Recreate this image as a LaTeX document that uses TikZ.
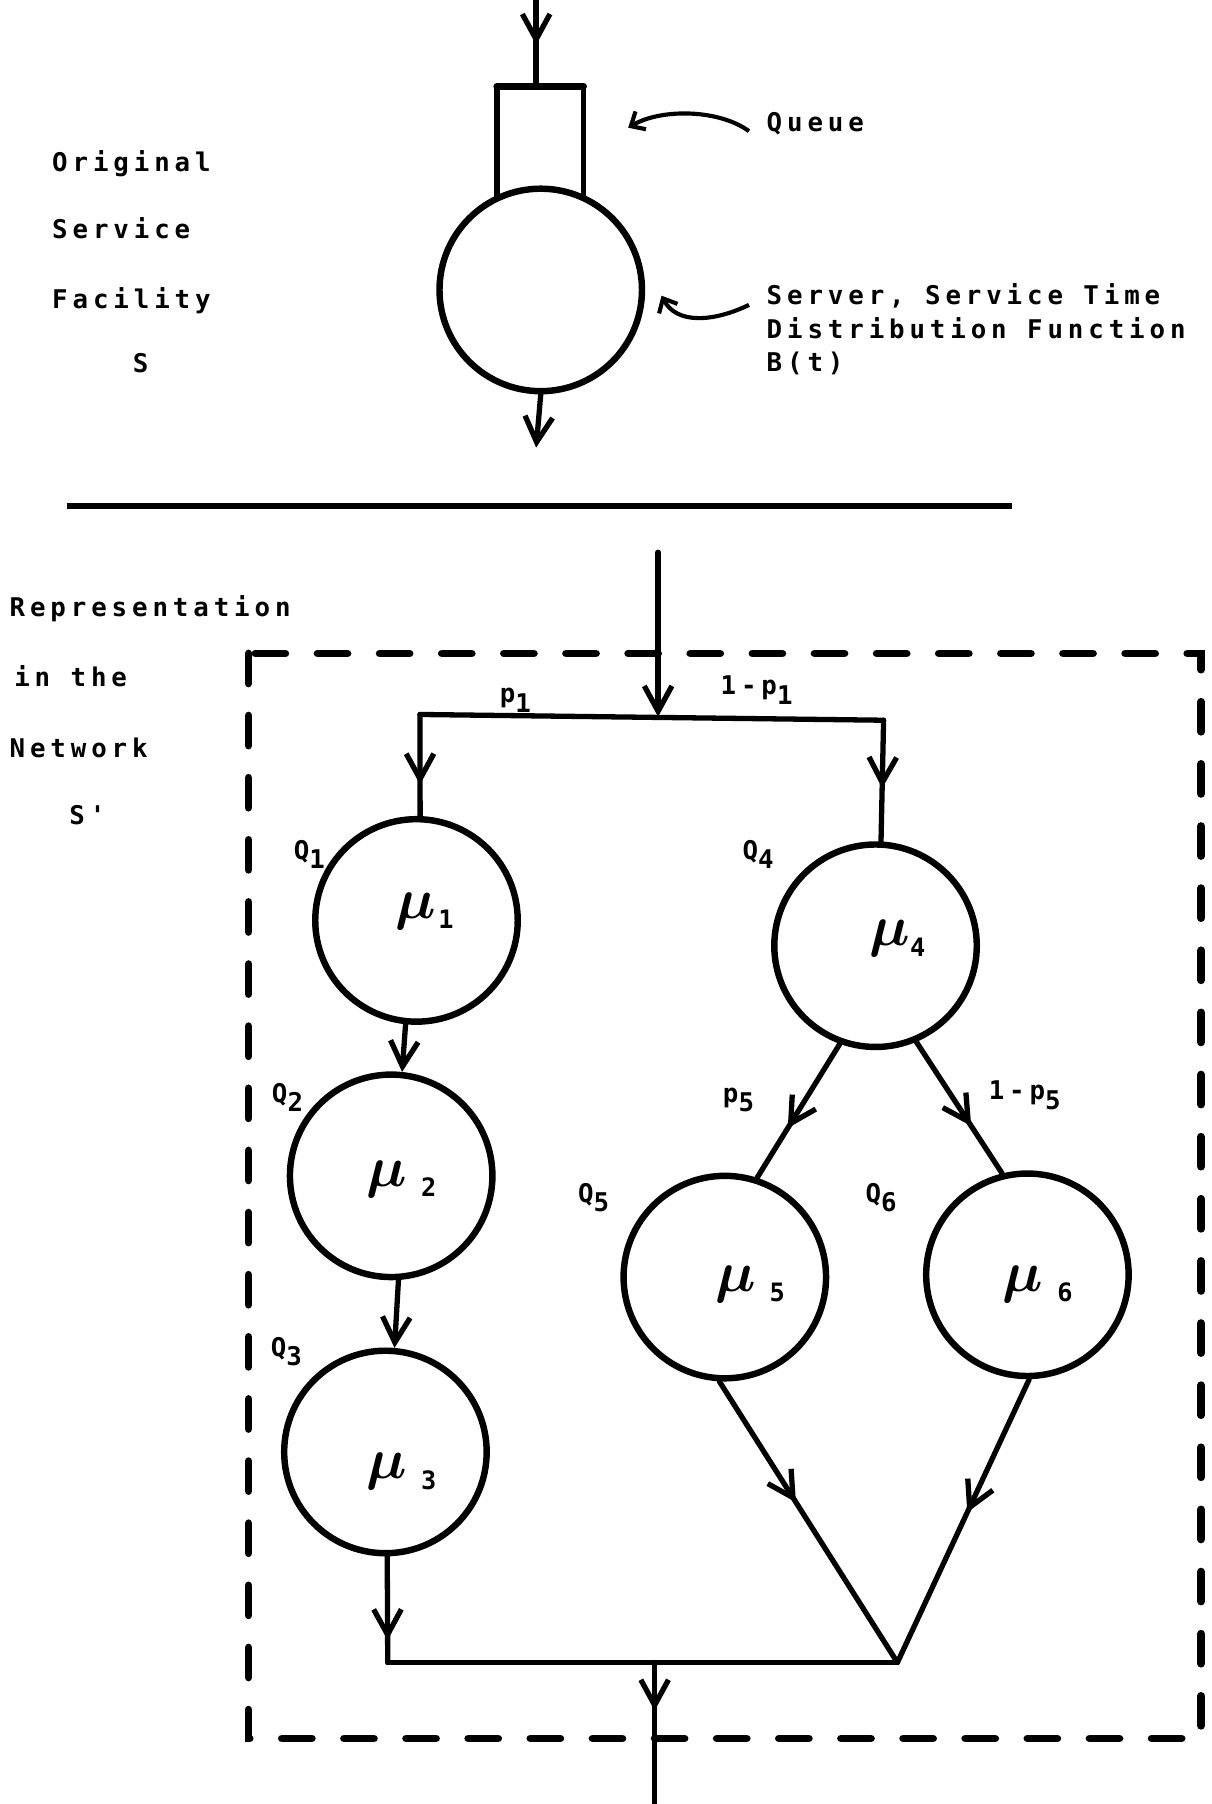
\documentclass[tikz,border=0pt]{standalone}
\usepackage{fontspec}
\newfontfamily\tw[LetterSpace=19]{DejaVu Sans Mono}
\usetikzlibrary{arrows.meta,decorations.markings,calc}

% lowered index digit, as typed beside a letter
\newcommand{\dn}[1]{\raisebox{-4pt}{#1}}
% service rate label: mu with its index
\newcommand{\mulab}[2]{{\fontsize{25}{25}\selectfont\boldmath$\mu$}\hspace{#2}\raisebox{-4.5pt}{\tw\bfseries\fontsize{11}{11}\selectfont #1}}

\begin{document}
\begin{tikzpicture}[x=0.5pt,y=-0.5pt,
  lbl/.style={font={\tw\bfseries\fontsize{11.2}{14.75}\selectfont}, inner sep=0pt, anchor=base west},
  srv/.style={circle, draw, line width=2.8pt, minimum size=88pt, inner sep=0pt},
  conn/.style={line width=2.3pt, line cap=round},
  endtip/.style={-{Straight Barb[length=11pt,width=12pt]}},
  smalltip/.style={-{Straight Barb[length=5pt,width=9pt]}},
  midarrow/.style={postaction={decorate}, decoration={markings,
      mark=at position #1 with {\arrow{Straight Barb[length=11pt,width=12pt]}}}},
  dashbox/.style={line width=3.4pt, line cap=round, dash pattern=on 13pt off 14pt},
  mulbl/.style={inner sep=0pt}
]
\useasboundingbox (0,0) rectangle (1053,1568);

% ---------- original service facility ----------
\node[lbl] (t1) at (45,149) {Original};
\node[lbl] (t2) at (45,207) {Service};
\node[lbl] (t3) at (45,268) {Facility};
\node[lbl] (t4) at (115,324) {S};

\coordinate (topin) at (466,0);
\coordinate (qtop) at (466,75);
\coordinate (qtl) at (432,75);
\coordinate (qtr) at (507,75);
\coordinate (qbl) at (432,173);
\coordinate (qbr) at (507,170);
\node[srv] (s) at (470,252) {};
\coordinate (sout) at (466,389);

\draw[line width=2.4pt] (qbl) -- (qtl);
\draw[line width=2.4pt] (qbr) -- (qtr);
\draw[line width=3.2pt, line cap=round] (qtl) -- (qtr);
\draw[conn, midarrow=0.52] (topin) -- (qtop);
\draw[conn, endtip] (s.south) -- (sout);

\node[lbl] (ql) at (666,114) {Queue};
\coordinate (qa1) at (651,114);
\coordinate (qa2) at (546,111);
\draw[line width=1.8pt, smalltip] (qa1) .. controls (625,95) and (575,94) .. (qa2);

\node[lbl] (sl1) at (666,265) {Server, Service Time};
\node[lbl] (sl2) at (666,294) {Distribution Function};
\node[lbl] (sl3) at (666,323) {B(t)};
\coordinate (sa1) at (651,265);
\coordinate (sa2) at (575,257);
\draw[line width=1.8pt, smalltip] (sa1) .. controls (620,280) and (588,282) .. (sa2);

% separating rule
\coordinate (rl) at (58,440);
\coordinate (rr) at (880,440);
\draw[line width=2.8pt] (rl) -- (rr);

% ---------- representation in the network ----------
\node[lbl] (r1) at (8,536) {Representation};
\node[lbl] (r2) at (12,597) {in the};
\node[lbl] (r3) at (8,658) {Network};
\node[lbl] (r4) at (60,717) {S'};

\coordinate (bx1) at (216,568);
\coordinate (bx2) at (1044,1511);
\draw[dashbox] (bx1) rectangle (bx2);

\node[srv] (c1) at (362,800) {};
\node[srv] (c2) at (340,1022) {};
\node[srv] (c3) at (335,1262) {};
\node[srv] (c4) at (761,822) {};
\node[srv] (c5) at (630,1110) {};
\node[srv] (c6) at (893,1108) {};

\node[mulbl] (m1) at (369,792) {\mulab{1}{1pt}};
\node[mulbl] (m2) at (349,1025) {\mulab{2}{6pt}};
\node[mulbl] (m3) at (349,1279) {\mulab{3}{6pt}};
\node[mulbl] (m4) at (780,816) {\mulab{4}{0pt}};
\node[mulbl] (m5) at (652,1116) {\mulab{5}{6pt}};
\node[mulbl] (m6) at (902,1116) {\mulab{6}{6pt}};

\coordinate (in) at (572,480);
\coordinate (split) at (572,623);
\coordinate (bl) at (365,621);
\coordinate (br) at (768,626);
\coordinate (jl) at (337,1445);
\coordinate (jr) at (780,1445);
\coordinate (jm) at (569,1445);
\coordinate (out) at (569,1568);

\draw[conn, endtip] (in) -- (split);
\draw[conn] (bl) -- (br);
\draw[conn, midarrow=0.69] (bl) -- (c1.88);
\draw[conn, midarrow=0.56] (br) -- (c4.87);
\draw[conn, endtip] (c1.-96) -- (c2.84);
\draw[conn, endtip] (c2.-86) -- (c3.85);
\draw[conn, midarrow=0.79] (c3.-89) -- (jl);
\draw[conn] (jl) -- (jr);
\draw[conn, midarrow=0.34] (jm) -- (out);
\draw[conn, midarrow=0.63] (c4.-110) -- (c5.72);
\draw[conn, midarrow=0.64] (c4.-67) -- (c6.104);
\draw[conn, midarrow=0.43] (c5.-93) -- (jr);
\draw[conn, midarrow=0.47] (c6.-89) -- (jr);

% branch probabilities and queue names
\node[lbl] (pa) at (434,611) {p\dn{1}};
\node[lbl] (pb) at (626,604) {1-p\dn{1}};
\node[lbl] (pc) at (628,958) {p\dn{5}};
\node[lbl] (pd) at (859,956) {1-p\dn{5}};
\node[lbl] (q1) at (255,747) {Q\dn{1}};
\node[lbl] (q2) at (236,958) {Q\dn{2}};
\node[lbl] (q3) at (235,1179) {Q\dn{3}};
\node[lbl] (q4) at (645,747) {Q\dn{4}};
\node[lbl] (q5) at (502,1045) {Q\dn{5}};
\node[lbl] (q6) at (752,1045) {Q\dn{6}};
\end{tikzpicture}
\end{document}
